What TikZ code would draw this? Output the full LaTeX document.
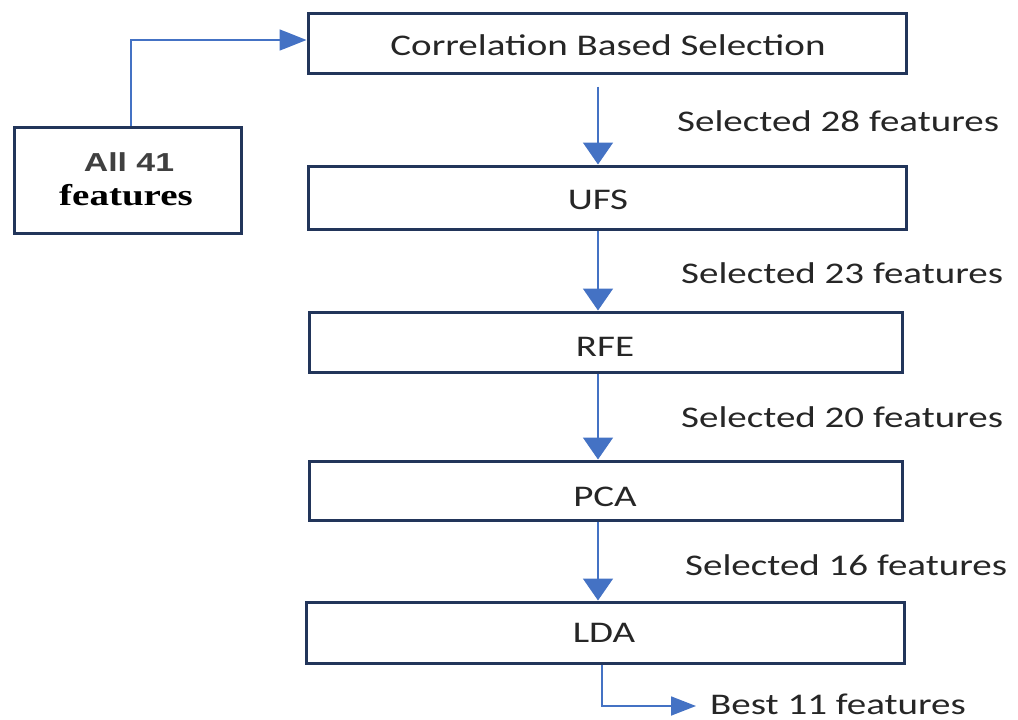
\documentclass[tikz,border=0pt]{standalone}
\usepackage{fontspec}
\usetikzlibrary{arrows.meta,calc}
\newfontfamily\calfont{Carlito}[FakeStretch=1.3]
\newfontfamily\arlfont{Liberation Sans Bold}[FakeStretch=1.3]
\newfontfamily\tmsfont{Liberation Serif Bold}[FakeStretch=1.3]
\definecolor{boxline}{HTML}{22355A}
\definecolor{flow}{HTML}{4472C4}
\tikzset{
  stage/.style={draw=boxline, line width=3pt, fill=white, inner sep=0pt},
  flowline/.style={draw=flow, line width=1.8pt},
  downarrow/.style={flowline, -{Triangle[length=22pt,width=30pt]}},
  rightarrow/.style={flowline, -{Triangle[length=27pt,width=21pt]}},
  caption/.style={inner sep=0pt, font=\calfont\fontsize{30}{34}\selectfont, text=black!85},
  lbl/.style={caption, anchor=west}
}
\begin{document}
\begin{tikzpicture}[x=1pt,y=-1pt]
  \useasboundingbox (0,0) rectangle (1018,720);
  % processing stages
  \node[stage, minimum width=598pt, minimum height=60pt] (corr) at (607,43) {};
  \node[stage, minimum width=598pt, minimum height=63pt] (ufs) at (607,197.5) {};
  \node[stage, minimum width=593pt, minimum height=60pt] (rfe) at (605.5,342) {};
  \node[stage, minimum width=593pt, minimum height=59pt] (pca) at (605.5,490.5) {};
  \node[stage, minimum width=598pt, minimum height=61pt] (lda) at (605,632.5) {};
  \node[stage, minimum width=227pt, minimum height=106pt] (all) at (127.5,180) {};
  % stage captions
  \node[caption] (tcorr) at (608,45) {Correlation Based Selection};
  \node[caption] (tufs) at (598,200) {UFS};
  \node[caption] (trfe) at (605,347) {RFE};
  \node[caption] (tpca) at (605,497) {PCA};
  \node[caption] (tlda) at (604,633) {LDA};
  \node[inner sep=0pt, font=\arlfont\fontsize{26}{30}\selectfont, text=black!75] (tall1) at (129,162) {All 41};
  \node[inner sep=0pt, font=\tmsfont\fontsize{30}{34}\selectfont] (tall2) at (126,195) {features};
  % feature counts between stages
  \node[lbl] (s28) at (677,121) {Selected 28 features};
  \node[lbl] (s23) at (681,273) {Selected 23 features};
  \node[lbl] (s20) at (681,417) {Selected 20 features};
  \node[lbl] (s16) at (685,565) {Selected 16 features};
  \node[lbl] (best) at (710,704) {Best 11 features};
  % connectors
  \coordinate (ax) at (598,0);
  \coordinate (lx) at (602,0);
  \coordinate (inx) at (131,0);
  \draw[rightarrow] (all.north -| inx) |- ([yshift=3pt]corr.west);
  \draw[downarrow] ([yshift=-12pt]corr.south -| ax) -- (ufs.north -| ax);
  \draw[downarrow] (ufs.south -| ax) -- (rfe.north -| ax);
  \draw[downarrow] (rfe.south -| ax) -- (pca.north -| ax);
  \draw[downarrow] (pca.south -| ax) -- (lda.north -| ax);
  \draw[flowline, -{Triangle[length=25pt,width=19pt]}] (lda.south -| lx) |- ([xshift=-14pt,yshift=-2pt]best.west);
\end{tikzpicture}
\end{document}
